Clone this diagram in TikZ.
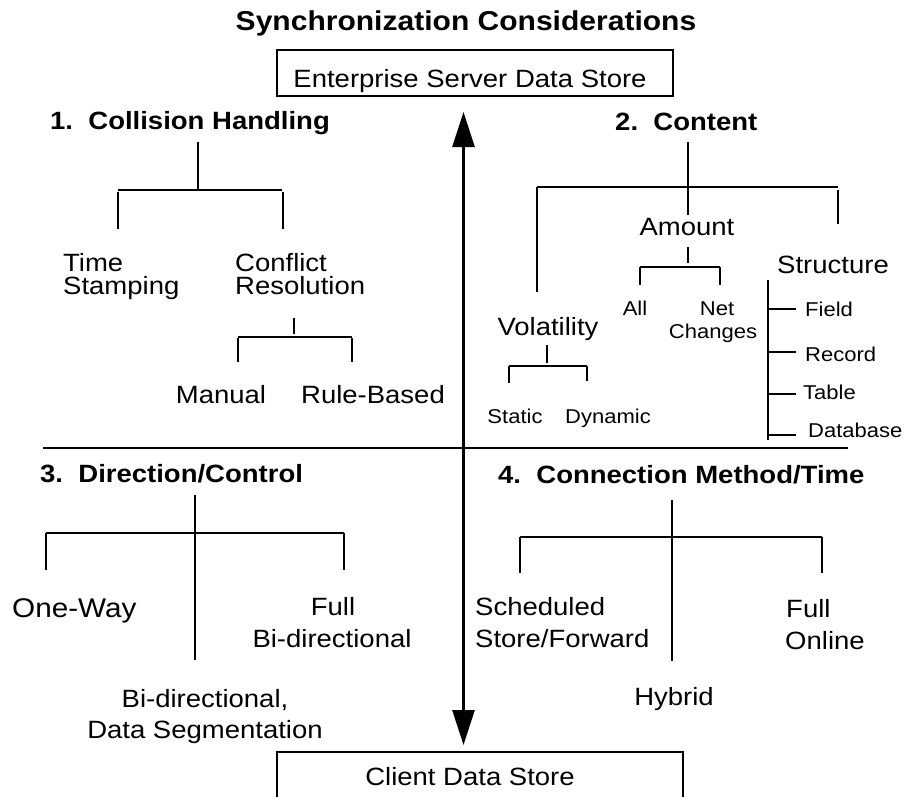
\documentclass[tikz,border=0pt]{standalone}
\usepackage{fontspec}
\setmainfont{Liberation Sans}[FakeStretch=1.1]
\usetikzlibrary{arrows.meta}

\tikzset{
  lbl/.style={font=\fontsize{25}{28}\selectfont, inner sep=0pt, anchor=base},
  lblw/.style={lbl, anchor=base west},
  sml/.style={font=\fontsize{20}{22}\selectfont, inner sep=0pt, anchor=base},
  smlw/.style={sml, anchor=base west},
  hdr/.style={font=\bfseries\fontsize{25}{28}\selectfont, inner sep=0pt, anchor=base west},
  ttl/.style={font=\bfseries\fontsize{27.3}{30}\selectfont, inner sep=0pt, anchor=base},
  tree/.style={line width=2pt},
  storebox/.style={draw, line width=2.6pt, inner sep=0pt},
  link/.style={line width=2.6pt, {Triangle[length=35pt,width=22pt]}-{Triangle[length=35pt,width=22pt]}},
}

\begin{document}
\begin{tikzpicture}[x=1pt, y=-1pt]
\path[use as bounding box] (0,0) rectangle (904,796);

% title and the two data stores
\node[ttl] (title) at (466,30) {Synchronization Considerations};
\node[storebox, minimum width=396pt, minimum height=46pt] (ent) at (475,73) {};
\node[lbl] (entlbl) at (470,87) {Enterprise Server Data Store};
\node[storebox, minimum width=406pt, minimum height=80pt] (cli) at (480,792) {};
\node[lbl] (clilbl) at (470,785) {Client Data Store};

% two-way synchronisation arrow
\coordinate (arrtop) at (463.5,112);
\coordinate (arrbot) at (463.5,745);
\draw[link] (arrtop) -- (arrbot);

% quadrant divider
\coordinate (divl) at (43,448);
\coordinate (divr) at (848,448);
\draw[line width=2.4pt] (divl) -- (divr);

% ---------- 1. Collision Handling ----------
\node[hdr] (h1) at (50,129) {1.\ \ Collision Handling};
\draw[tree] (198,142) -- (198,190);
\draw[tree] (118,190) -- (282,190);
\draw[tree] (118,192) -- (118,229);
\draw[tree] (283,192) -- (283,229);
\node[lblw] (time) at (63,271) {Time};
\node[lblw] (stamp) at (63,294) {Stamping};
\node[lblw] (confl) at (235,271) {Conflict};
\node[lblw] (resol) at (235,294) {Resolution};
\draw[tree] (294,318) -- (294,334);
\draw[tree] (238,337) -- (352,337);
\draw[tree] (238,338) -- (238,362);
\draw[tree] (352,338) -- (352,362);
\node[lbl] (manual) at (221,403) {Manual};
\node[lbl] (rule) at (373,403) {Rule-Based};

% ---------- 2. Content ----------
\node[hdr] (h2) at (615,130) {2.\ \ Content};
\draw[tree] (688,142) -- (688,215);
\draw[tree] (537,187) -- (838,187);
\draw[tree] (537,187) -- (537,292);
\draw[tree] (838,190) -- (838,224);
\node[lbl] (amount) at (687,235) {Amount};
\draw[tree] (688,247) -- (688,263);
\draw[tree] (640,267) -- (720,267);
\draw[tree] (640,267) -- (640,285);
\draw[tree] (720,267) -- (720,285);
\node[sml] (all) at (635,315) {All};
\node[sml] (net) at (717,315) {Net};
\node[sml] (changes) at (713,338) {Changes};
\node[lbl] (volat) at (548,335) {Volatility};
\draw[tree] (547,345) -- (547,363);
\draw[tree] (509,366) -- (587,366);
\draw[tree] (509,366) -- (509,383);
\draw[tree] (587,366) -- (587,381);
\node[sml] (static) at (515,423) {Static};
\node[sml] (dynamic) at (608,423) {Dynamic};
\node[lbl] (struct) at (833,273) {Structure};
\draw[tree] (768,280) -- (768,440);
\draw[tree] (768,309) -- (796,309);
\draw[tree] (768,352) -- (796,352);
\draw[tree] (768,394) -- (796,394);
\draw[tree] (768,435) -- (796,435);
\node[smlw] (field) at (805,316) {Field};
\node[smlw] (record) at (805,361) {Record};
\node[smlw] (table) at (803,399) {Table};
\node[smlw] (dbase) at (808,437) {Database};

% ---------- 3. Direction/Control ----------
\node[hdr] (h3) at (40,482) {3.\ \ Direction/Control};
\draw[tree] (195,495) -- (195,660);
\draw[tree] (46,533) -- (344,533);
\draw[tree] (46,533) -- (46,570);
\draw[tree] (344,533) -- (344,570);
\node[font=\fontsize{27}{30}\selectfont, inner sep=0pt, anchor=base west] (oneway) at (12,617) {One-Way};
\node[lbl] (full3) at (333,615) {Full};
\node[lbl] (bidir) at (332,647) {Bi-directional};
\node[lbl] (bidseg) at (205,707) {Bi-directional,};
\node[lbl] (dataseg) at (205,738) {Data Segmentation};

% ---------- 4. Connection Method/Time ----------
\node[hdr] (h4) at (498,483) {4.\ \ Connection Method/Time};
\draw[tree] (672,500) -- (672,661);
\draw[tree] (520,537) -- (822,537);
\draw[tree] (520,537) -- (520,573);
\draw[tree] (822,537) -- (822,573);
\node[lblw] (sched) at (475,615) {Scheduled};
\node[lblw] (storefw) at (475,647) {Store/Forward};
\node[lblw] (full4) at (786,617) {Full};
\node[lblw] (online) at (785,649) {Online};
\node[lbl] (hybrid) at (674,705) {Hybrid};
\end{tikzpicture}
\end{document}
